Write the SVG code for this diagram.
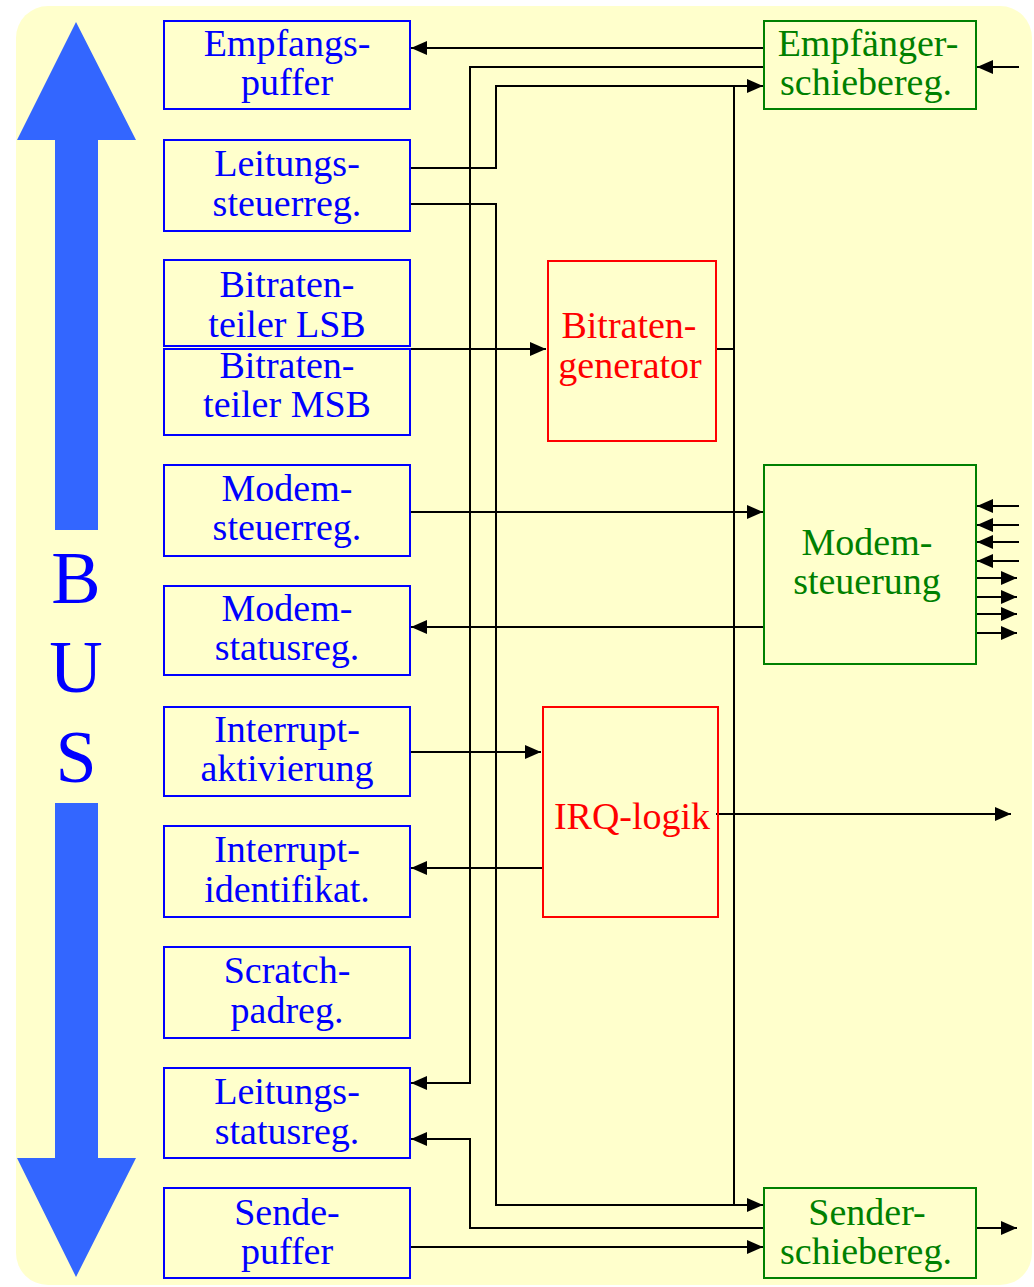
<svg xmlns="http://www.w3.org/2000/svg" width="1034" height="1287" viewBox="0 0 1034 1287">
<defs>
<style>
.bg{fill:#FFFFCC}
.reg{fill:none;stroke:#0000FF;stroke-width:2}
.blk{fill:none;stroke:#008000;stroke-width:2}
.red{fill:none;stroke:#FF0000;stroke-width:2}
.t{font-family:"Liberation Serif","Times New Roman",serif;font-size:38px;text-anchor:middle}
.tb{fill:#0000FF}
.tg{fill:#008000}
.tr{fill:#FF0000}
.bus{font-family:"Liberation Serif","Times New Roman",serif;font-size:74px;text-anchor:middle;fill:#0000FF}
.c{fill:none;stroke:#000;stroke-width:2}
.ca{fill:none;stroke:#000;stroke-width:2;marker-end:url(#ah)}
</style>
<marker id="ah" viewBox="0 0 16 14" refX="16" refY="7" markerWidth="16" markerHeight="14" markerUnits="userSpaceOnUse" orient="auto">
<path d="M0,0 L16,7 L0,14 Z" fill="#000"/>
</marker>
</defs>
<rect class="bg" x="16" y="6" width="1016" height="1279" rx="32" ry="32"/>
<g id="bus">
<polygon points="76,22 136,140 98,140 98,530 55,530 55,140 17,140" fill="#3366FF"/>
<polygon points="55,803 98,803 98,1158 136,1158 76,1277 17,1158 55,1158" fill="#3366FF"/>
<text class="bus" x="76" y="603">B</text>
<text class="bus" x="76" y="692">U</text>
<text class="bus" x="76" y="782">S</text>
</g>
<g id="connectors">
<path class="ca" d="M764,48 L411,48"/>
<path class="ca" d="M764,67 L470,67 L470,1083 L411,1083"/>
<path class="ca" d="M410,168 L496,168 L496,86 L763,86"/>
<path class="ca" d="M410,204 L496,204 L496,1205 L763,1205"/>
<path class="c" d="M734,86 L734,1205"/>
<path class="c" d="M716,349 L734,349"/>
<path class="ca" d="M410,349 L546,349"/>
<path class="ca" d="M410,512 L763,512"/>
<path class="ca" d="M764,627 L411,627"/>
<path class="ca" d="M410,752 L541,752"/>
<path class="ca" d="M543,868 L411,868"/>
<path class="ca" d="M716,814 L1011,814"/>
<path class="ca" d="M764,1228 L470,1228 L470,1139 L411,1139"/>
<path class="ca" d="M410,1247 L763,1247"/>
<path class="ca" d="M1019,67 L977,67"/>
<path class="ca" d="M1019,506 L977,506"/>
<path class="ca" d="M1019,525 L977,525"/>
<path class="ca" d="M1019,542 L977,542"/>
<path class="ca" d="M1019,561 L977,561"/>
<path class="ca" d="M975,578 L1017,578"/>
<path class="ca" d="M975,597 L1017,597"/>
<path class="ca" d="M975,614 L1017,614"/>
<path class="ca" d="M975,633 L1017,633"/>
<path class="ca" d="M976,1228 L1017,1228"/>
</g>
<g id="empfangspuffer"><rect class="reg" x="164" y="21" width="246" height="88"/><text class="t tb" x="287" y="56">Empfangs-</text><text class="t tb" x="287" y="95">puffer</text></g>
<g id="leitungssteuerreg"><rect class="reg" x="164" y="140" width="246" height="91"/><text class="t tb" x="287" y="176">Leitungs-</text><text class="t tb" x="287" y="216">steuerreg.</text></g>
<g id="bitratenlsb"><rect class="reg" x="164" y="260" width="246" height="86"/><text class="t tb" x="287" y="297">Bitraten-</text><text class="t tb" x="287" y="337">teiler LSB</text></g>
<g id="bitratenmsb"><rect class="reg" x="164" y="349" width="246" height="86"/><text class="t tb" x="287" y="378">Bitraten-</text><text class="t tb" x="287" y="417">teiler MSB</text></g>
<g id="modemsteuerreg"><rect class="reg" x="164" y="465" width="246" height="91"/><text class="t tb" x="287" y="501">Modem-</text><text class="t tb" x="287" y="540">steuerreg.</text></g>
<g id="modemstatusreg"><rect class="reg" x="164" y="586" width="246" height="89"/><text class="t tb" x="287" y="621">Modem-</text><text class="t tb" x="287" y="660">statusreg.</text></g>
<g id="interruptaktivierung"><rect class="reg" x="164" y="707" width="246" height="89"/><text class="t tb" x="287" y="742">Interrupt-</text><text class="t tb" x="287" y="781">aktivierung</text></g>
<g id="interruptidentifikat"><rect class="reg" x="164" y="826" width="246" height="91"/><text class="t tb" x="287" y="862">Interrupt-</text><text class="t tb" x="287" y="902">identifikat.</text></g>
<g id="scratchpadreg"><rect class="reg" x="164" y="947" width="246" height="91"/><text class="t tb" x="287" y="983">Scratch-</text><text class="t tb" x="287" y="1023">padreg.</text></g>
<g id="leitungsstatusreg"><rect class="reg" x="164" y="1068" width="246" height="90"/><text class="t tb" x="287" y="1104">Leitungs-</text><text class="t tb" x="287" y="1144">statusreg.</text></g>
<g id="sendepuffer"><rect class="reg" x="164" y="1188" width="246" height="90"/><text class="t tb" x="287" y="1225">Sende-</text><text class="t tb" x="287" y="1264">puffer</text></g>
<g id="empfaengerschiebereg"><rect class="blk" x="764" y="21" width="212" height="88"/><text class="t tg" x="868" y="56">Empfänger-</text><text class="t tg" x="866" y="95">schiebereg.</text></g>
<g id="bitratengenerator"><rect class="red" x="548" y="261" width="168" height="180"/><text class="t tr" x="629" y="338">Bitraten-</text><text class="t tr" x="630" y="378">generator</text></g>
<g id="modemsteuerung"><rect class="blk" x="764" y="465" width="212" height="199"/><text class="t tg" x="867" y="555">Modem-</text><text class="t tg" x="867" y="594">steuerung</text></g>
<g id="irqlogik"><rect class="red" x="543" y="707" width="175" height="210"/><text class="t tr" x="632" y="829">IRQ-logik</text></g>
<g id="senderschiebereg"><rect class="blk" x="764" y="1188" width="212" height="90"/><text class="t tg" x="867" y="1225">Sender-</text><text class="t tg" x="866" y="1264">schiebereg.</text></g>
</svg>
